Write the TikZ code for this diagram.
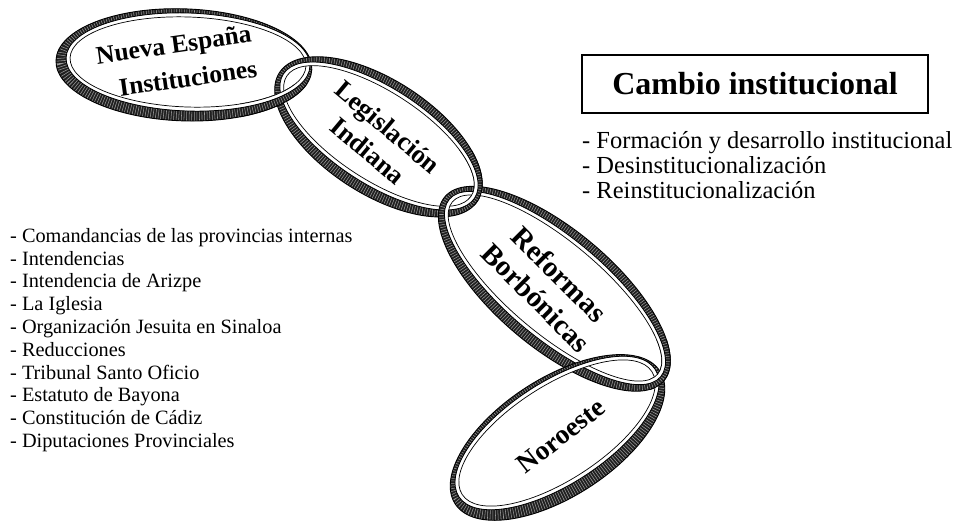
\documentclass[tikz,border=0pt]{standalone}
\usepackage{fontspec}
\setmainfont{Liberation Serif}
\definecolor{ringdark}{gray}{0.12}
\definecolor{stripe}{gray}{0.6}
% #1 cx  #2 cy  #3 angle  #4 a  #5 b  #6 ox  #7 oy  #8 tx  #9 ty
\newcommand\chainring[9]{%
  \begin{scope}[shift={(#1,-#2)},rotate=#3]
    \fill[white,even odd rule] (0,0) ellipse [x radius=#4+4, y radius=#5+4]
                               (0,0) ellipse [x radius=#4, y radius=#5];
    \fill[ringdark,even odd rule] (#6,#7) ellipse [x radius=#4+4+#8, y radius=#5+4+#9]
                                  (0,0) ellipse [x radius=#4+4, y radius=#5+4];
    \begin{scope}[even odd rule]
      \clip (#6,#7) ellipse [x radius=#4+4+#8, y radius=#5+4+#9]
            (0,0) ellipse [x radius=#4+4, y radius=#5+4];
      \draw[stripe, line width=34, dash pattern=on 0.55 off 2.0]
           (0,0) ellipse [x radius=#4+4+#8/2, y radius=#5+4+#9/2];
    \end{scope}
    \draw[line width=0.9] (#6,#7) ellipse [x radius=#4+4+#8, y radius=#5+4+#9];
    \draw[line width=0.8] (0,0) ellipse [x radius=#4+4, y radius=#5+4];
    \draw[line width=0.7] (0,0) ellipse [x radius=#4, y radius=#5];
  \end{scope}}
\newcommand\ringA{\chainring{188}{62}{-2}{118}{45}{-4}{-3}{6}{7}}
\newcommand\ringB{\chainring{379}{136}{-33}{110}{44}{0}{-1}{4}{9}}
\newcommand\ringC{\chainring{555}{288}{-40}{134}{46}{0}{-1}{5}{9}}
\newcommand\ringD{\chainring{557}{433}{33}{113}{47}{-2}{-4}{5}{8}}
\begin{document}
\begin{tikzpicture}[x=1pt,y=1pt,
  ringlabel/.style={align=center, inner sep=0},
  listtext/.style={font=\fontsize{20.3}{22.8}\selectfont, align=left, inner sep=0, anchor=north west},
  righttext/.style={font=\fontsize{24.5}{25}\selectfont, align=left, inner sep=0, anchor=north west},
  titlebox/.style={draw, line width=2.2, minimum width=346, minimum height=58, inner sep=0,
                   font=\fontsize{32}{36}\selectfont\bfseries}]
\useasboundingbox (0,0) rectangle (958,-523);
% rings
\ringA
\ringB
\begin{scope}
  \clip (240,-84) rectangle (350,-150);
  \ringA
\end{scope}
\ringC
\begin{scope}
  \clip (420,-150) -- (535,-150) -- (535,-268) -- cycle;
  \ringB
\end{scope}
\ringD
\begin{scope}
  \clip (650,-340) rectangle (705,-425);
  \ringC
\end{scope}
% ring labels
\node[ringlabel, rotate=8, font=\fontsize{25.5}{28}\selectfont\bfseries] (ne) at (174,-47) {Nueva España};
\node[ringlabel, rotate=8, font=\fontsize{25.5}{28}\selectfont\bfseries] (ins) at (188,-78) {Instituciones};
\node[ringlabel, rotate=-40, font=\fontsize{26.5}{31}\selectfont\bfseries] (li) at (378,-139) {Legislación\\Indiana};
\node[ringlabel, rotate=-45, font=\fontsize{29}{33}\selectfont\bfseries] (rb) at (548,-286) {Reformas\\Borbónicas};
\node[ringlabel, rotate=38, font=\fontsize{27.5}{30}\selectfont\bfseries] (no) at (561,-436) {Noroeste};
% title box
\node[titlebox] (title) at (755,-84) {Cambio institucional};
\node[righttext] (rlist) at (582,-131) {- Formación y desarrollo institucional\\- Desinstitucionalización\\- Reinstitucionalización};
\node[listtext] (llist) at (10,-228) {- Comandancias de las provincias internas\\- Intendencias\\- Intendencia de Arizpe\\- La Iglesia\\- Organización Jesuita en Sinaloa\\- Reducciones\\- Tribunal Santo Oficio\\- Estatuto de Bayona\\- Constitución de Cádiz\\- Diputaciones Provinciales};
\end{tikzpicture}
\end{document}
